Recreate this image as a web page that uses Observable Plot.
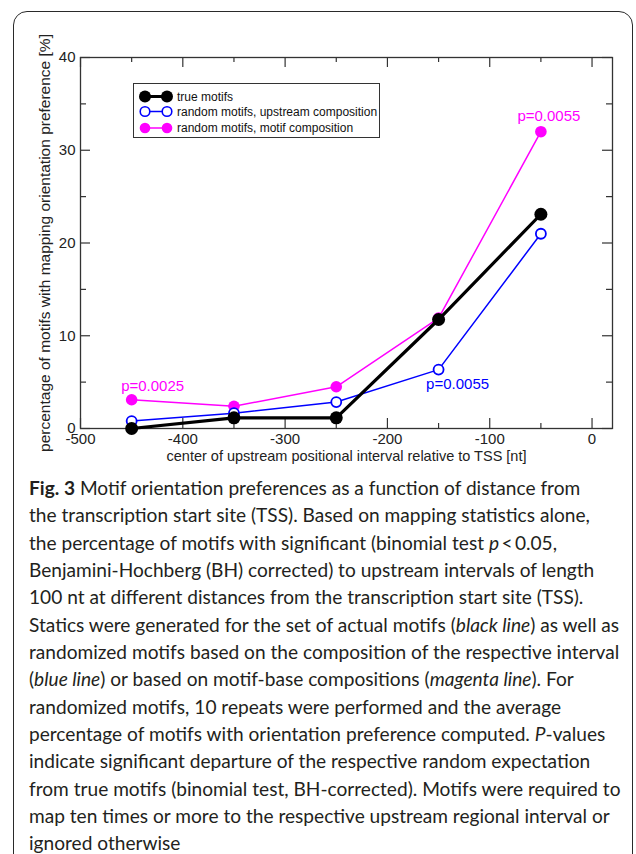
<!DOCTYPE html>
<html><head><meta charset="utf-8">
<script src="https://cdn.jsdelivr.net/npm/d3@7"></script>
<script src="https://cdn.jsdelivr.net/npm/@observablehq/plot@0.6"></script>
<style>
body{margin:0;background:#fff;}
#page{position:relative;width:636px;height:854px;overflow:hidden;background:#fff;}
#border{position:absolute;left:13px;top:11px;width:620px;height:890px;border:1.5px solid #2a2a2a;border-radius:14px;box-sizing:border-box;pointer-events:none;}
#chart{position:absolute;left:0;top:0;}
#legend{position:absolute;left:133px;top:83px;width:247px;height:55px;border:1px solid #333;background:#fff;box-sizing:border-box;}
#caption{position:absolute;left:29px;top:474px;line-height:27.35px;font-family:Lato,"Noto Sans",sans-serif;color:#231f20;white-space:nowrap;}
#caption b{font-weight:700;}
</style></head><body>
<div id="page"><div id="chart"></div><div id="legend"></div><div id="caption"></div><div id="border"></div></div>
<script>
// ---- data ----
const positions = [-450, -350, -250, -150, -50];
const trueMotifs = [0.0, 1.15, 1.15, 11.75, 23.1];
const randomUpstream = [0.8, 1.65, 2.85, 6.35, 21.0];
const randomMotif = [3.1, 2.4, 4.5, 11.9, 32.0];
const seriesNames = ["true motifs", "random motifs, upstream composition", "random motifs, motif composition"];
const xMajorTicks = [-500, -400, -300, -200, -100, 0];
const xMinorTicks = [-450, -350, -250, -150, -50];
const yMajorTicks = [0, 10, 20, 30, 40];
const yMinorTicks = [5, 15, 25, 35];
const pLabelText = ["p=0.0025", "p=0.0055", "p=0.0055"];
const pLabelX = [-450, -50, -150];
const pLabelSeries = [2, 2, 1];
const xLabel = "center of upstream positional interval relative to TSS [nt]";
const yLabel = "percentage of motifs with mapping orientation preference [%]";
const captionLines = [
  "<b>Fig. 3</b> Motif orientation preferences as a function of distance from",
  "the transcription start site (TSS). Based on mapping statistics alone,",
  "the percentage of motifs with significant (binomial test <i>p</i>&thinsp;&lt;&thinsp;0.05,",
  "Benjamini-Hochberg (BH) corrected) to upstream intervals of length",
  "100 nt at different distances from the transcription start site (TSS).",
  "Statics were generated for the set of actual motifs (<i>black line</i>) as well as",
  "randomized motifs based on the composition of the respective interval",
  "(<i>blue line</i>) or based on motif-base compositions (<i>magenta line</i>). For",
  "randomized motifs, 10 repeats were performed and the average",
  "percentage of motifs with orientation preference computed. <i>P</i>-values",
  "indicate significant departure of the respective random expectation",
  "from true motifs (binomial test, BH-corrected). Motifs were required to",
  "map ten times or more to the respective upstream regional interval or",
  "ignored otherwise"
];

// ---- build ----
const seriesValues = [trueMotifs, randomUpstream, randomMotif];
const toRows = (vals) => positions.map((x, i) => ({x, y: vals[i]}));
const blackRows = toRows(trueMotifs), blueRows = toRows(randomUpstream), magRows = toRows(randomMotif);
const pLabels = pLabelText.map((t, i) => ({
  text: t, x: pLabelX[i], y: seriesValues[pLabelSeries[i]][positions.indexOf(pLabelX[i])]
}));

const W = 636, H = 470, ML = 80, MR = 24, MT = 57, MB = 42;
const FW = W - ML - MR, FH = H - MT - MB;
const MAG = "#ff00ff", BLUE = "#0000ff", INK = "#333";

const chart = Plot.plot({
  width: W, height: H,
  marginLeft: ML, marginRight: MR, marginTop: MT, marginBottom: MB,
  style: {fontFamily: '"Liberation Sans", Arial, sans-serif', fontSize: "15px", color: "#222", background: "transparent"},
  x: {domain: [-500, 20]},
  y: {domain: [0, 40]},
  marks: [
    Plot.axisX({ticks: xMajorTicks, tickSize: 0, tickPadding: 5, tickFormat: d => String(d), label: null, fontSize: 15}),
    Plot.axisY({ticks: yMajorTicks, tickSize: 0, tickPadding: 5, tickFormat: d => String(d), label: null, fontSize: 15}),
    // inward ticks
    Plot.tickX(xMajorTicks, {x: d => d, insetTop: FH - 10, stroke: INK, strokeWidth: 1.2}),
    Plot.tickX(xMajorTicks, {x: d => d, insetBottom: FH - 10, stroke: INK, strokeWidth: 1.2}),
    Plot.tickX(xMinorTicks, {x: d => d, insetTop: FH - 5, stroke: INK, strokeWidth: 1.2}),
    Plot.tickX(xMinorTicks, {x: d => d, insetBottom: FH - 5, stroke: INK, strokeWidth: 1.2}),
    Plot.tickY(yMajorTicks, {y: d => d, insetRight: FW - 10, stroke: INK, strokeWidth: 1.2}),
    Plot.tickY(yMajorTicks, {y: d => d, insetLeft: FW - 10, stroke: INK, strokeWidth: 1.2}),
    Plot.tickY(yMinorTicks, {y: d => d, insetRight: FW - 6, stroke: INK, strokeWidth: 1.2}),
    Plot.tickY(yMinorTicks, {y: d => d, insetLeft: FW - 6, stroke: INK, strokeWidth: 1.2}),
    Plot.frame({stroke: INK, strokeWidth: 1.3}),
    // series
    Plot.line(magRows, {x: "x", y: "y", stroke: MAG, strokeWidth: 1.5}),
    Plot.dot(magRows, {x: "x", y: "y", r: 5.8, fill: MAG, stroke: "none"}),
    Plot.line(blueRows, {x: "x", y: "y", stroke: BLUE, strokeWidth: 1.5}),
    Plot.dot(blueRows, {x: "x", y: "y", r: 5, fill: "white", stroke: BLUE, strokeWidth: 1.8}),
    Plot.line(blackRows, {x: "x", y: "y", stroke: "black", strokeWidth: 3.2}),
    Plot.dot(blackRows, {x: "x", y: "y", r: 6.5, fill: "black", stroke: "none"}),
    // p-value annotations
    Plot.text([pLabels[0]], {x: "x", y: "y", text: "text", fill: MAG, dx: 21, dy: -14, fontSize: 15}),
    Plot.text([pLabels[1]], {x: "x", y: "y", text: "text", fill: MAG, dx: 8, dy: -16, fontSize: 15}),
    Plot.text([pLabels[2]], {x: "x", y: "y", text: "text", fill: BLUE, dx: 19, dy: 15, fontSize: 15}),
    // axis titles
    Plot.text([xLabel], {frameAnchor: "bottom", textAnchor: "middle", lineAnchor: "middle", text: d => d, dy: 28, fontSize: 14.5, fill: "#222"}),
    Plot.text([yLabel], {frameAnchor: "left", textAnchor: "middle", lineAnchor: "middle", text: d => d, dx: -35, rotate: -90, fontSize: 15.5, fill: "#222"})
  ]
});
document.getElementById("chart").appendChild(chart);

// legend
const legendColors = ["black", BLUE, MAG];
const legendFill = ["black", "white", MAG];
const legendLineW = [3, 1.5, 1.5];
const leg = d3.select("#legend").append("svg").attr("width", 245).attr("height", 53)
  .style("font", '12px "Liberation Sans", Arial, sans-serif');
const rowY = [12.5, 27.5, 44];
seriesNames.forEach((name, i) => {
  const g = leg.append("g").attr("transform", `translate(0,${rowY[i]})`);
  g.append("line").attr("x1", 11).attr("x2", 33).attr("y1", 0).attr("y2", 0)
    .attr("stroke", legendColors[i]).attr("stroke-width", legendLineW[i]);
  const r = i === 0 ? 6 : 5.3;
  [11, 33].forEach(cx => g.append("circle").attr("cx", cx).attr("cy", 0).attr("r", i === 1 ? 4.8 : r)
    .attr("fill", legendFill[i]).attr("stroke", i === 1 ? BLUE : "none").attr("stroke-width", 1.6));
  g.append("text").attr("x", 43).attr("y", 0).attr("dy", "0.35em").attr("fill", "#111").text(name);
});

// caption
const cap = document.getElementById("caption");
const ctx = document.createElement("canvas").getContext("2d");
ctx.font = '20px Lato';
const refW = ctx.measureText(captionLines[6]).width;
const fs = 20 * 591 / refW;
cap.style.fontSize = fs.toFixed(2) + "px";
cap.innerHTML = captionLines.map(l => `<div>${l}</div>`).join("");
</script>
</body></html>
